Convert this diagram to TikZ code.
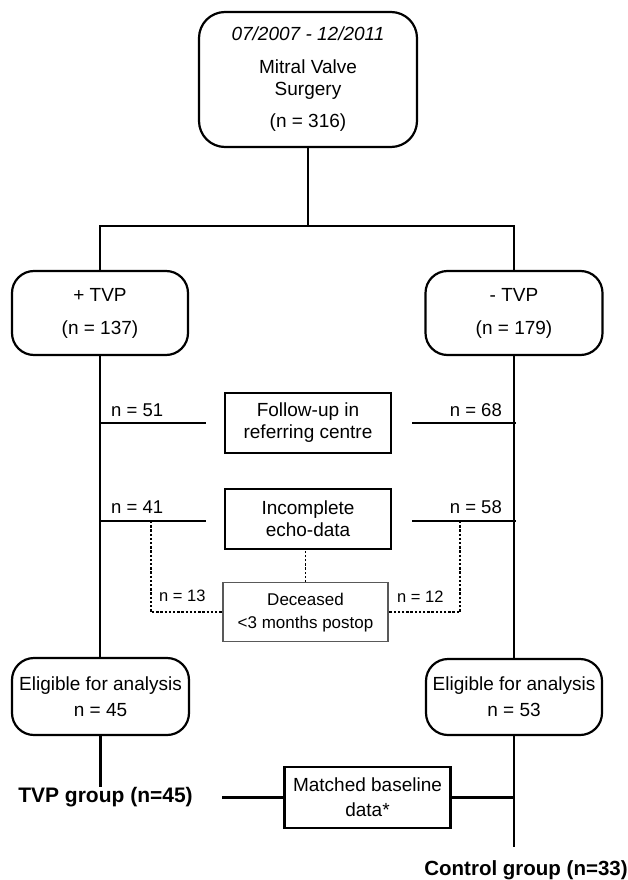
\documentclass[tikz,border=0pt]{standalone}
\usepackage{fontspec}
\setmainfont{Liberation Sans}
\usetikzlibrary{positioning}

\tikzset{
  rbox/.style={draw, line width=2.2pt, rounded corners=22pt, align=center, font=\fontsize{19}{22}\selectfont},
  sbox/.style={draw, line width=2.2pt, align=center, minimum width=166pt, minimum height=60pt, font=\fontsize{19}{22}\selectfont},
  lbl/.style={font=\fontsize{18.5}{22}\selectfont, inner sep=0pt},
  slbl/.style={font=\fontsize{16.5}{20}\selectfont, inner sep=0pt},
  grp/.style={font=\bfseries\fontsize{21}{24}\selectfont, inner sep=0pt},
  link/.style={line width=2.2pt},
  dots/.style={line width=1.8pt, dash pattern=on 2.4pt off 1.8pt},
}

\begin{document}
\begin{tikzpicture}[x=1pt,y=1pt]
        \useasboundingbox (0,0) rectangle (627,-880);

        \node (mvs) [rbox, rounded corners=26pt, minimum width=218pt, minimum height=135pt] at (308,-79.5)
          {\textit{07/2007 - 12/2011}\\[11pt] Mitral Valve\\ Surgery\\[10pt] (n = 316)};
        \node (tvpp) [rbox, minimum width=176pt, minimum height=84pt] at (100,-313) {+ TVP\\[11pt] (n = 137)};
        \node (tvpm) [rbox, minimum width=177pt, minimum height=84pt] at (514,-313) {- TVP\\[11pt] (n = 179)};

        \node (fup) [sbox] at (308,-423) {Follow-up in\\ referring centre};
        \node (echo) [sbox, below=34pt of fup] {Incomplete\\ echo-data};
        \node (dec) [sbox, draw=black!65, line width=1.1pt, minimum width=165pt, minimum height=59pt,
          font=\fontsize{17}{23}\selectfont, below=32pt of echo, xshift=-2.5pt] {Deceased\\ <3 months postop};

        \node (eligp) [rbox, minimum width=177pt, minimum height=77pt] at (100.5,-696.5) {Eligible for analysis\\[4pt] n = 45};
        \node (eligm) [rbox, minimum width=176pt, minimum height=76pt] at (514,-697) {Eligible for analysis\\[4pt] n = 53};

        \node (tvpg) [grp] at (105.5,-797) {TVP group (n=45)};
        \node (match) [sbox, minimum height=61pt] at (367.5,-797.5) {Matched baseline\\[3pt] data*};
        \node (ctrl) [grp, font=\bfseries\fontsize{20.5}{24}\selectfont] at (526,-870) {Control group (n=33)};

        \node (n51) [lbl, anchor=west] at (111,-410) {n = 51};
        \node (n68) [lbl, anchor=east] at (502,-410) {n = 68};
        \node (n41) [lbl, anchor=west] at (111,-507) {n = 41};
        \node (n58) [lbl, anchor=east] at (502,-507) {n = 58};
        \node (n13) [slbl, anchor=west] at (159,-596) {n = 13};
        \node (n12) [slbl, anchor=west] at (397,-597) {n = 12};

        \coordinate (split) at (308,-226);
        \coordinate (fl1) at (99,-423);
        \coordinate (fl2) at (206,-423);
        \coordinate (fr1) at (412,-423);
        \coordinate (fr2) at (516,-423);
        \coordinate (el1) at (99,-521);
        \coordinate (el2) at (206,-521);
        \coordinate (er1) at (412,-521);
        \coordinate (er2) at (516,-521);
        \coordinate (dl) at (151,-521);
        \coordinate (dr) at (460,-521);
        \coordinate (mstart) at (222,-797.5);
        \coordinate (cend) at (514,-847);

        \draw[link] (mvs) -- (split);
        \draw[link] (tvpp) |- (split) -| (tvpm);
        \draw[link] (tvpp.south) -- (tvpp.south |- eligp.north);
        \draw[link] (tvpm) -- (eligm);
        \draw[link] (fl1) -- (fl2);
        \draw[link] (fr1) -- (fr2);
        \draw[link] (el1) -- (el2);
        \draw[link] (er1) -- (er2);

        \draw[dots] (dl) |- (dec.west);
        \draw[dots] (dr) |- (dec.east);
        \draw[dots] (dec.north) -- (dec.north |- echo.south);

        \draw[link] (eligp.south) -- (eligp.south |- tvpg.north);
        \draw[link] (mstart) -- (match.west);
        \draw[link] (match.east) -- (match.east -| eligm.south);
        \draw[link] (eligm) -- (cend);
        % matched groups at the bottom
\end{tikzpicture}
\end{document}
